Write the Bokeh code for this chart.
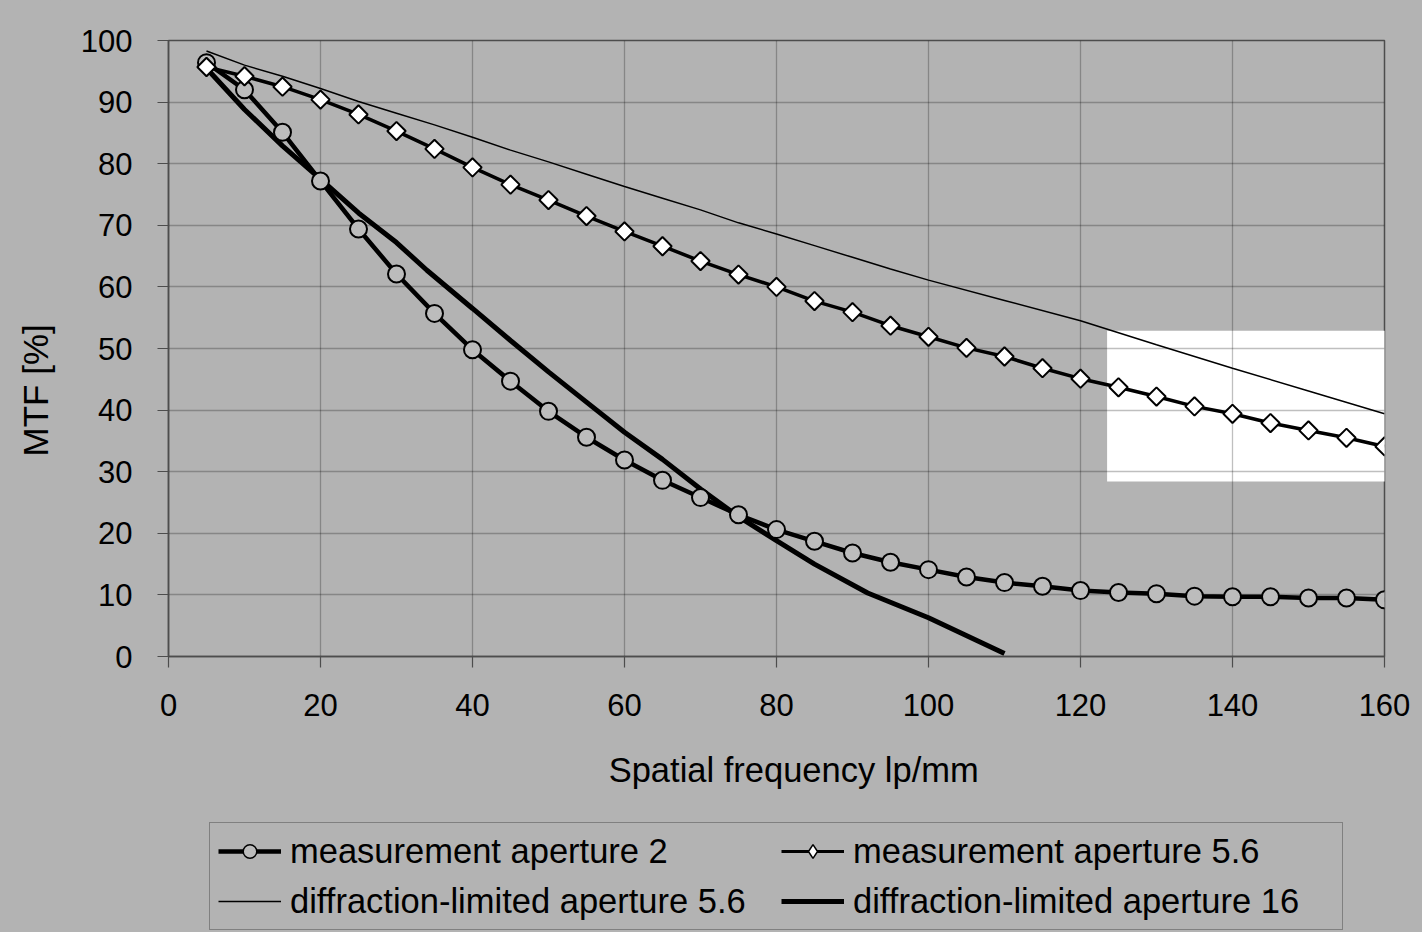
import math
from bokeh.plotting import figure
from bokeh.layouts import row, column
from bokeh.models import Legend, LegendItem, Label, BoxAnnotation, FixedTicker, Range1d
from bokeh.embed import file_html
from bokeh.resources import INLINE

# ---------------- data ----------------
freq_meas = [5, 10, 15, 20, 25, 30, 35, 40, 45, 50, 55, 60, 65, 70, 75, 80,
             85, 90, 95, 100, 105, 110, 115, 120, 125, 130, 135, 140, 145, 150, 155, 160]
mtf_meas_ap2 = [96.4, 92.0, 85.1, 77.2, 69.4, 62.1, 55.7, 49.8, 44.7, 39.8, 35.6, 31.9,
                28.6, 25.8, 23.0, 20.6, 18.7, 16.8, 15.3, 14.1, 12.9, 12.0, 11.4, 10.7,
                10.4, 10.2, 9.8, 9.7, 9.7, 9.5, 9.5, 9.2]
mtf_meas_ap56 = [95.7, 94.2, 92.5, 90.4, 88.0, 85.3, 82.4, 79.4, 76.6, 74.1, 71.5, 69.0,
                 66.6, 64.2, 62.0, 60.0, 57.7, 55.9, 53.7, 51.9, 50.1, 48.7, 46.8, 45.1,
                 43.7, 42.2, 40.6, 39.4, 37.9, 36.7, 35.5, 34.1]
freq_diff56 = [5, 10, 15, 20, 25, 30, 35, 40, 45, 50, 55, 60, 65, 70, 75, 80, 85, 90,
               95, 100, 110, 120, 130, 140, 150, 160]
mtf_diff56 = [98.3, 96.0, 94.2, 92.2, 90.1, 88.2, 86.3, 84.3, 82.2, 80.3, 78.3, 76.3,
              74.4, 72.5, 70.4, 68.6, 66.7, 64.8, 62.9, 61.1, 57.8, 54.5, 50.6, 46.8,
              43.1, 39.4]
freq_diff16 = [5, 10, 15, 20, 25, 30, 34, 40, 45, 50, 55, 60, 65, 70, 75, 80, 85, 92, 100, 110]
mtf_diff16 = [95.5, 88.8, 82.9, 77.5, 72.0, 67.2, 62.7, 56.5, 51.3, 46.2, 41.3, 36.4,
              32.0, 27.2, 22.7, 18.8, 15.0, 10.3, 6.3, 0.5]
x_ticks = [0, 20, 40, 60, 80, 100, 120, 140, 160]
y_ticks = [0, 10, 20, 30, 40, 50, 60, 70, 80, 90, 100]
legend_labels = ["measurement aperture 2", "measurement aperture 5.6",
                 "diffraction-limited aperture 5.6", "diffraction-limited aperture 16"]
x_label = "Spatial frequency  lp/mm"
y_label = "MTF  [%]"

# ---------------- style ----------------
BG = "#b3b3b3"
FONT = "Liberation Sans"
AXC = "#4d4d4d"
LEFT_W = 60          # strip holding the y title
MAIN_W = 1422 - LEFT_W
MAIN_H = 736
LEG_H = 932 - MAIN_H
FRAME_X0 = 168       # page x of the plotting frame's left edge
FRAME_W = 1216


def bare_fig(w, h, xr):
    f = figure(width=w, height=h, output_backend="svg", toolbar_location=None,
               x_range=Range1d(0, xr), y_range=Range1d(0, h),
               x_axis_location=None, y_axis_location=None,
               min_border_left=0, min_border_right=0, min_border_top=0, min_border_bottom=0)
    f.background_fill_color = BG
    f.border_fill_color = BG
    f.outline_line_color = None
    f.grid.visible = False
    return f


# ---------------- main chart ----------------
p = figure(width=MAIN_W, height=MAIN_H, output_backend="svg", toolbar_location=None,
           x_range=Range1d(0, 160), y_range=Range1d(0, 100),
           min_border_left=FRAME_X0 - LEFT_W, min_border_right=38, min_border_top=40,
           min_border_bottom=MAIN_H - 656)
p.background_fill_color = BG
p.border_fill_color = BG
p.outline_line_color = AXC
p.outline_line_width = 1.5

box = BoxAnnotation(left=123.5, right=162.3, bottom=28.4, top=52.9,
                    fill_color="white", fill_alpha=1.0, line_alpha=0, level="image")
p.add_layout(box)

for ax in (p.xaxis, p.yaxis):
    ax.axis_line_color = AXC
    ax.axis_line_width = 1.5
    ax.major_tick_line_color = AXC
    ax.major_tick_line_width = 1.2
    ax.major_tick_out = 11
    ax.major_tick_in = 0
    ax.minor_tick_line_color = None
    ax.major_label_text_font = FONT
    ax.major_label_text_font_size = "31px"
    ax.major_label_text_color = "black"
p.xaxis.ticker = FixedTicker(ticks=x_ticks)
p.yaxis.ticker = FixedTicker(ticks=y_ticks)
p.xaxis.major_label_standoff = 26
p.yaxis.major_label_standoff = 25

p.grid.grid_line_color = "black"
p.grid.grid_line_alpha = 0.25
p.grid.grid_line_width = 1.3
p.xgrid.ticker = FixedTicker(ticks=x_ticks)
p.ygrid.ticker = FixedTicker(ticks=y_ticks)

p.line(freq_diff16, mtf_diff16, line_color="black", line_width=5)
p.line(freq_diff56, mtf_diff56, line_color="black", line_width=1.5)
p.line(freq_meas, mtf_meas_ap2, line_color="black", line_width=4.5)
p.scatter(freq_meas, mtf_meas_ap2, marker="circle", size=17,
          fill_color="#bcbcbc", line_color="black", line_width=2)
p.line(freq_meas, mtf_meas_ap56, line_color="black", line_width=3.5)
p.scatter(freq_meas, mtf_meas_ap56, marker="square", size=13, angle=math.pi / 4,
          fill_color="white", line_color="black", line_width=2)

# ---------------- y title strip ----------------
pl = bare_fig(LEFT_W, 932, LEFT_W)
pl.add_layout(Label(x=35, y=932 - 385, text=y_label, angle=math.pi / 2,
                    text_align="center", text_baseline="middle",
                    text_font=FONT, text_font_size="35px", text_color="black"))

# ---------------- x title + legend strip (its frame is aligned with the chart frame) ----------------
pb = bare_fig(MAIN_W, LEG_H, FRAME_W)
pb.add_layout(Label(x=798 - FRAME_X0, y=932 - 769, text=x_label,
                    text_align="center", text_baseline="middle",
                    text_font=FONT, text_font_size="34.5px", text_color="black"))

# legend samples: one undefined point each, only their look is used by the legend
nan = [float("nan")]
g_ap2_l = pb.line(nan, nan, line_color="black", line_width=4.5)
g_ap2_m = pb.scatter(nan, nan, marker="circle", fill_color="#bcbcbc", line_color="black", line_width=1.5)
g_ap56_l = pb.line(nan, nan, line_color="black", line_width=3)
g_ap56_m = pb.scatter(nan, nan, marker="diamond", fill_color="white", line_color="black", line_width=1.5)
g_d56 = pb.line(nan, nan, line_color="black", line_width=1.5)
g_d16 = pb.line(nan, nan, line_color="black", line_width=5)

legend = Legend(items=[
    LegendItem(label=legend_labels[0], renderers=[g_ap2_l, g_ap2_m]),
    LegendItem(label=legend_labels[2], renderers=[g_d56]),
    LegendItem(label=legend_labels[1], renderers=[g_ap56_l, g_ap56_m]),
    LegendItem(label=legend_labels[3], renderers=[g_d16]),
], ncols=2, location=(209 - FRAME_X0, 932 - 930))
legend.label_text_font = FONT
legend.label_text_font_size = "34.5px"
legend.label_text_color = "black"
legend.glyph_width = 63
legend.glyph_height = 34
legend.label_height = 40
legend.label_width = 481
legend.label_standoff = 9
legend.spacing = 10
legend.padding = 8
legend.margin = 0
legend.background_fill_alpha = 0
legend.border_line_color = AXC
legend.border_line_width = 1.5
pb.add_layout(legend)

layout = row(pl, column(p, pb, spacing=0), spacing=0)

html = file_html(layout, INLINE)
html = html.replace("<body>", '<body style="margin:0;overflow:hidden;background-color:#b3b3b3;">')
open("out.html", "w").write(html)
